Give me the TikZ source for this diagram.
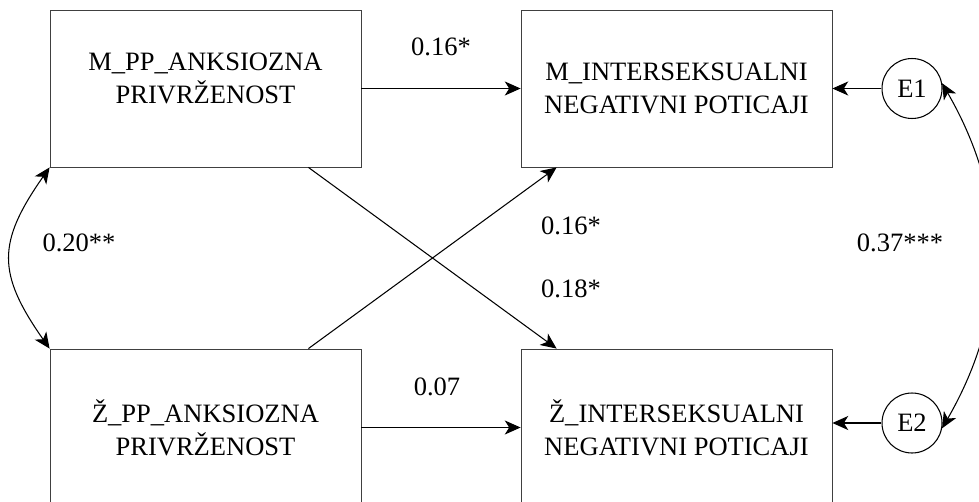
\documentclass[tikz,border=0pt]{standalone}
\usepackage{fontspec}
\setmainfont{Liberation Serif}
\usetikzlibrary{arrows.meta}
\tikzset{%
    var/.style={draw=black!75, line width=0.5pt, minimum width=6.22cm,
        minimum height=3.14cm, inner sep=0pt, align=center},
    err/.style={draw, line width=0.6pt, circle, minimum size=1.2cm, inner sep=0pt},
    path/.style={->, line width=0.6pt},
    cov/.style={<->, line width=0.6pt},
    coef/.style={inner sep=0pt}
}
\begin{document}
\begin{tikzpicture}[x=0.02cm, y=0.02cm,
    >={Stealth[length=9pt,width=8pt,inset=2.5pt]},
    font=\fontsize{15.1pt}{18.8pt}\selectfont]
    \useasboundingbox (0,0) rectangle (979,501);
    \clip (0,0) rectangle (979,501);
%-----------------------------------------------
    \node[var, text depth=0.42cm] (mpp) at (205.5,412.5) {M\_PP\_ANKSIOZNA\\PRIVRŽENOST};
    \node[var] (mint) at (676.5,412.5) {M\_INTERSEKSUALNI\\NEGATIVNI POTICAJI};
    \node[var] (zpp) at (205.5,73.5) {Ž\_PP\_ANKSIOZNA\\PRIVRŽENOST};
    \node[var] (zint) at (676.5,73.5) {Ž\_INTERSEKSUALNI\\NEGATIVNI POTICAJI};
    \node[err] (e1) at (912,412.5) {E1};
    \node[err] (e2) at (912,78) {E2};
%-----------------------------------------------
    \draw[path] (mpp) -- (mint);
    \draw[path] (zpp) -- (zint);
    \draw[path] ([xshift=-1.06cm]mpp.south east) -- ([xshift=0.72cm]zint.north west);
    \draw[path] ([xshift=-1.06cm]zpp.north east) -- ([xshift=0.72cm]mint.south west);
    \draw[path] (e1) -- (mint);
    \draw[path] (e2) -- (e2 -| zint.east);
%-----------------------------------------------
    \draw[cov] (mpp.south west) to[out=235, in=125, looseness=1.3] (zpp.north west);
    \draw[cov] (e1.10) to[out=-60, in=60] (e2.-10);
%-----------------------------------------------
    \node[coef] (b1) at (441,454) {0.16*};
    \node[coef] (b2) at (437,114) {0.07};
    \node[coef] (b3) at (571,275) {0.16*};
    \node[coef] (b4) at (571,212) {0.18*};
    \node[coef] (r1) at (79,258) {0.20**};
    \node[coef] (r2) at (900,258) {0.37***};
\end{tikzpicture}
\end{document}
